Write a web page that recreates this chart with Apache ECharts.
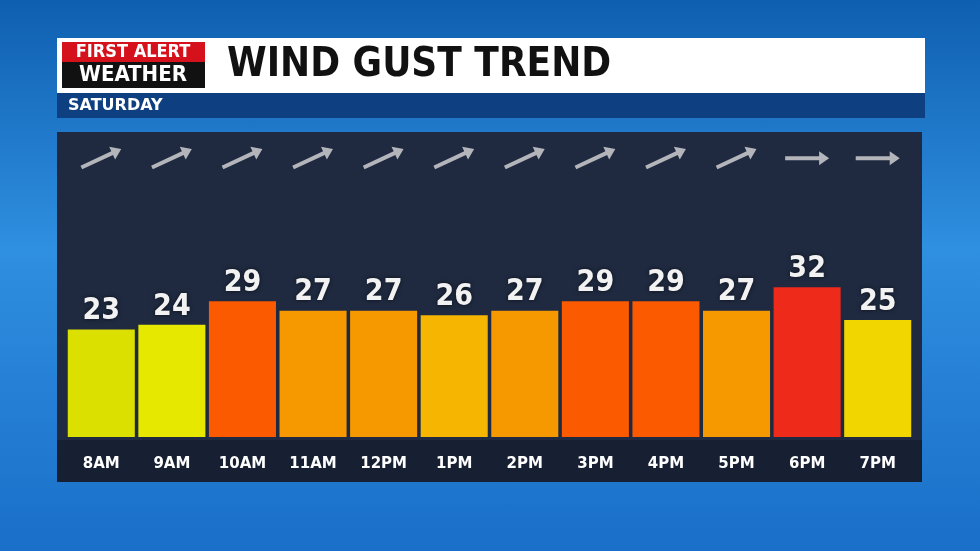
<!DOCTYPE html>
<html><head><meta charset="utf-8">
<script src="https://cdn.jsdelivr.net/npm/echarts@6/dist/echarts.min.js"></script>
<style>
html,body{margin:0;padding:0;width:980px;height:551px;overflow:hidden;background:linear-gradient(180deg,#0f5fb0 0%,#2f8fe0 45%,#1a6fc8 100%);}
#c{width:980px;height:551px;}
</style></head><body><div id="c"></div>
<script>
const hours=['8AM','9AM','10AM','11AM','12PM','1PM','2PM','3PM','4PM','5PM','6PM','7PM'];
const gusts=[23,24,29,27,27,26,27,29,29,27,32,25];
const windDir=[25,25,25,25,25,25,25,25,25,25,0,0];
const title='WIND GUST TREND';
const day='SATURDAY';
function col(v){return v>=32?'#ee2a1a':v>=29?'#fb5a00':v>=27?'#f69800':v>=26?'#f5b500':v>=25?'#f2d600':v>=24?'#e6e800':'#dbe000';}
const chart=echarts.init(document.getElementById('c'));
const arrowPath='path://M0,5 L34,5 L34,0 L44,7 L34,14 L34,9 L0,9 Z';
chart.setOption({
  animation:false,
  graphic:[
    {type:'rect',shape:{x:57,y:132,width:865,height:350},style:{fill:'#1f2a40'}},
    {type:'rect',shape:{x:57,y:440,width:865,height:42},style:{fill:'#172033'}},
    {type:'rect',shape:{x:57,y:38,width:868,height:55},style:{fill:'#ffffff'}},
    {type:'rect',shape:{x:57,y:93,width:868,height:25},style:{fill:'#0e3f80'}},
    {type:'rect',shape:{x:62,y:42,width:143,height:20},style:{fill:'#d5121c'}},
    {type:'text',x:133,y:52,style:{text:'FIRST ALERT',fill:'#fff',font:'bold 18px "DejaVu Sans Condensed"',align:'center',verticalAlign:'middle'}},
    {type:'rect',shape:{x:62,y:62,width:143,height:26},style:{fill:'#111'}},
    {type:'text',x:133,y:75,style:{text:'WEATHER',fill:'#fff',font:'bold 22px "DejaVu Sans Condensed"',align:'center',verticalAlign:'middle'}},
    {type:'text',x:227,y:66,style:{text:title,fill:'#111',font:'bold 40px "DejaVu Sans Condensed"',verticalAlign:'middle'}},
    {type:'text',x:68,y:106,style:{text:day,fill:'#fff',font:'bold 16px "DejaVu Sans"',verticalAlign:'middle'}}
  ],
  grid:{left:66,right:67,top:132,bottom:114},
  xAxis:{type:'category',data:hours,axisLine:{show:false},axisTick:{show:false},
    axisLabel:{color:'#fff',fontFamily:'DejaVu Sans',fontWeight:'bold',fontSize:15,margin:20}},
  yAxis:{type:'value',min:0,max:65.2,show:false,splitLine:{show:false}},
  series:[
    {type:'bar',barWidth:'95%',data:gusts.map(v=>({value:v,itemStyle:{color:col(v)}})),
     label:{show:true,position:'top',distance:3,color:'#f2f2f2',fontFamily:'DejaVu Sans Condensed',fontWeight:'bold',fontSize:30,textShadowColor:'rgba(0,0,0,0.6)',textShadowBlur:4}},
    {type:'scatter',symbol:arrowPath,symbolSize:[44,14],data:windDir.map((d,i)=>({value:[i,59.6],symbolRotate:d})),
     itemStyle:{color:'#d8d8d8'},silent:true}
  ]
});
</script></body></html>
